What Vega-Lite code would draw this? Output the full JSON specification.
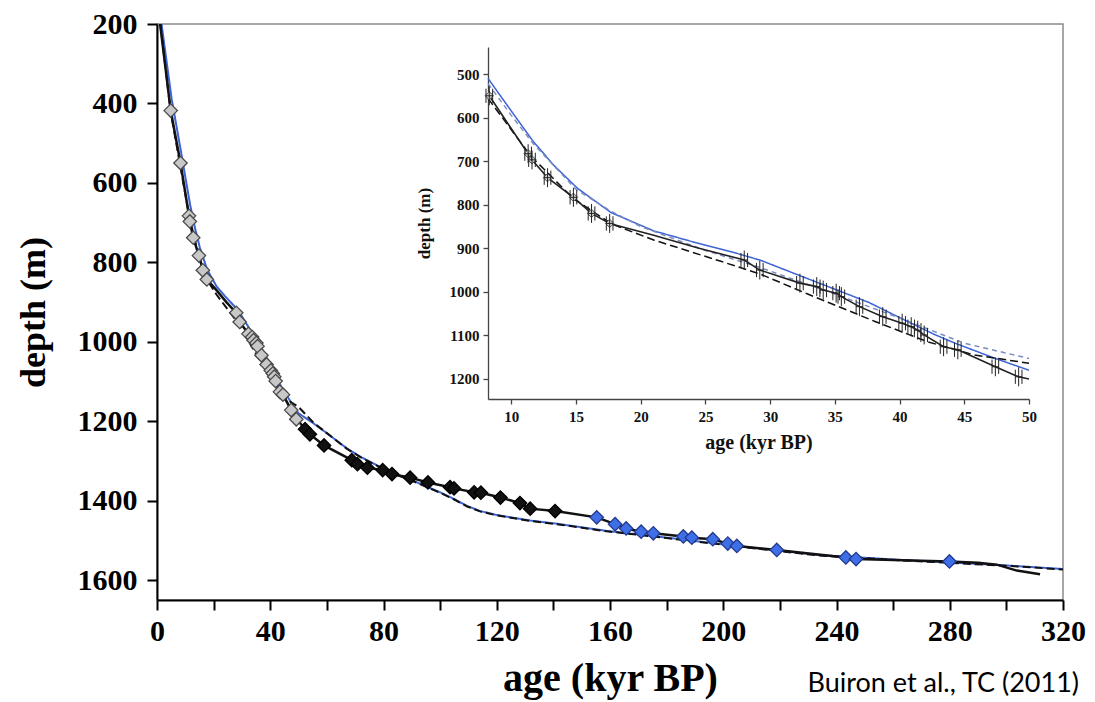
{
  "$schema": "https://vega.github.io/schema/vega-lite/v6.json",
  "width": 906,
  "height": 576,
  "autosize": "none",
  "padding": {"left": 157, "top": 24, "right": 32, "bottom": 102},
  "background": "white",
  "config": {
    "view": {"stroke": "#8a8a8a", "strokeWidth": 1.5},
    "font": "Liberation Serif"
  },
  "title": {
    "text": "Buiron et al., TC (2011)",
    "orient": "bottom",
    "anchor": "end",
    "frame": "group",
    "font": "Lato",
    "fontSize": 27,
    "fontWeight": "normal",
    "color": "#000000",
    "dx": 16,
    "dy": -31
  },
  "datasets": {
    "chron": [
      {"age": 1.1, "depth": 200, "set": "L"},
      {"age": 4.84, "depth": 418, "set": "A"},
      {"age": 8.2, "depth": 546, "set": "L"},
      {"age": 8.3, "depth": 550, "set": "A"},
      {"age": 11.3, "depth": 683, "set": "A"},
      {"age": 11.6, "depth": 697, "set": "A"},
      {"age": 12.8, "depth": 738, "set": "A"},
      {"age": 14.8, "depth": 783, "set": "A"},
      {"age": 16.2, "depth": 820, "set": "A"},
      {"age": 17.6, "depth": 843, "set": "A"},
      {"age": 21.0, "depth": 870, "set": "L"},
      {"age": 24.5, "depth": 900, "set": "L"},
      {"age": 28.0, "depth": 927, "set": "A"},
      {"age": 29.2, "depth": 950, "set": "A"},
      {"age": 32.3, "depth": 980, "set": "A"},
      {"age": 33.6, "depth": 988, "set": "A"},
      {"age": 34.1, "depth": 996, "set": "A"},
      {"age": 35.1, "depth": 1003, "set": "A"},
      {"age": 35.5, "depth": 1011, "set": "A"},
      {"age": 36.9, "depth": 1034, "set": "A"},
      {"age": 38.7, "depth": 1057, "set": "A"},
      {"age": 40.2, "depth": 1072, "set": "A"},
      {"age": 40.9, "depth": 1080, "set": "A"},
      {"age": 41.4, "depth": 1088, "set": "A"},
      {"age": 41.9, "depth": 1099, "set": "A"},
      {"age": 43.4, "depth": 1126, "set": "A"},
      {"age": 44.5, "depth": 1133, "set": "A"},
      {"age": 47.4, "depth": 1172, "set": "A"},
      {"age": 49.2, "depth": 1195, "set": "A"},
      {"age": 50.0, "depth": 1200, "set": "L"},
      {"age": 52.3, "depth": 1220, "set": "B"},
      {"age": 54.0, "depth": 1233, "set": "B"},
      {"age": 59.0, "depth": 1261, "set": "B"},
      {"age": 68.8, "depth": 1298, "set": "B"},
      {"age": 70.8, "depth": 1308, "set": "B"},
      {"age": 74.3, "depth": 1317, "set": "B"},
      {"age": 79.7, "depth": 1323, "set": "B"},
      {"age": 83.0, "depth": 1333, "set": "B"},
      {"age": 89.4, "depth": 1342, "set": "B"},
      {"age": 95.7, "depth": 1354, "set": "B"},
      {"age": 103.5, "depth": 1366, "set": "B"},
      {"age": 104.9, "depth": 1369, "set": "B"},
      {"age": 112.0, "depth": 1379, "set": "B"},
      {"age": 114.4, "depth": 1380, "set": "B"},
      {"age": 121.3, "depth": 1392, "set": "B"},
      {"age": 128.2, "depth": 1406, "set": "B"},
      {"age": 131.8, "depth": 1420, "set": "B"},
      {"age": 140.6, "depth": 1426, "set": "B"},
      {"age": 155.3, "depth": 1442, "set": "C"},
      {"age": 161.8, "depth": 1459, "set": "C"},
      {"age": 165.7, "depth": 1470, "set": "C"},
      {"age": 171.0, "depth": 1478, "set": "C"},
      {"age": 175.3, "depth": 1482, "set": "C"},
      {"age": 185.9, "depth": 1490, "set": "C"},
      {"age": 188.9, "depth": 1493, "set": "C"},
      {"age": 196.3, "depth": 1497, "set": "C"},
      {"age": 201.6, "depth": 1508, "set": "C"},
      {"age": 204.8, "depth": 1514, "set": "C"},
      {"age": 218.9, "depth": 1524, "set": "C"},
      {"age": 243.3, "depth": 1543, "set": "C"},
      {"age": 246.9, "depth": 1547, "set": "C"},
      {"age": 279.9, "depth": 1553, "set": "C"},
      {"age": 290.0, "depth": 1556, "set": "L"},
      {"age": 296.6, "depth": 1561, "set": "L"},
      {"age": 303.7, "depth": 1576, "set": "L"},
      {"age": 311.9, "depth": 1585, "set": "L"}
    ],
    "models": [
      {"age": 1.6, "depth": 200, "curve": "M1"},
      {"age": 5.2, "depth": 390, "curve": "M1"},
      {"age": 8.2, "depth": 510, "curve": "M1"},
      {"age": 10.0, "depth": 585, "curve": "M1"},
      {"age": 11.7, "depth": 655, "curve": "M1"},
      {"age": 13.3, "depth": 710, "curve": "M1"},
      {"age": 15.1, "depth": 762, "curve": "M1"},
      {"age": 17.7, "depth": 818, "curve": "M1"},
      {"age": 21.0, "depth": 860, "curve": "M1"},
      {"age": 24.0, "depth": 885, "curve": "M1"},
      {"age": 27.0, "depth": 908, "curve": "M1"},
      {"age": 29.3, "depth": 928, "curve": "M1"},
      {"age": 32.4, "depth": 964, "curve": "M1"},
      {"age": 35.0, "depth": 994, "curve": "M1"},
      {"age": 37.6, "depth": 1024, "curve": "M1"},
      {"age": 40.2, "depth": 1062, "curve": "M1"},
      {"age": 42.7, "depth": 1098, "curve": "M1"},
      {"age": 44.3, "depth": 1118, "curve": "M1"},
      {"age": 47.4, "depth": 1153, "curve": "M1"},
      {"age": 50.0, "depth": 1180, "curve": "M1"},
      {"age": 55.2, "depth": 1205, "curve": "M1"},
      {"age": 60.0, "depth": 1230, "curve": "M1"},
      {"age": 67.0, "depth": 1268, "curve": "M1"},
      {"age": 72.0, "depth": 1290, "curve": "M1"},
      {"age": 78.8, "depth": 1315, "curve": "M1"},
      {"age": 85.0, "depth": 1335, "curve": "M1"},
      {"age": 90.5, "depth": 1350, "curve": "M1"},
      {"age": 100.0, "depth": 1379, "curve": "M1"},
      {"age": 105.0, "depth": 1396, "curve": "M1"},
      {"age": 109.4, "depth": 1413, "curve": "M1"},
      {"age": 114.1, "depth": 1426, "curve": "M1"},
      {"age": 120.0, "depth": 1436, "curve": "M1"},
      {"age": 131.8, "depth": 1450, "curve": "M1"},
      {"age": 141.2, "depth": 1458, "curve": "M1"},
      {"age": 158.8, "depth": 1476, "curve": "M1"},
      {"age": 180.0, "depth": 1493, "curve": "M1"},
      {"age": 206.0, "depth": 1515, "curve": "M1"},
      {"age": 234.0, "depth": 1537, "curve": "M1"},
      {"age": 262.5, "depth": 1549, "curve": "M1"},
      {"age": 297.8, "depth": 1562, "curve": "M1"},
      {"age": 320.0, "depth": 1572, "curve": "M1"},
      {"age": 1.2, "depth": 200, "curve": "M2"},
      {"age": 4.8, "depth": 420, "curve": "M2"},
      {"age": 8.2, "depth": 556, "curve": "M2"},
      {"age": 11.5, "depth": 688, "curve": "M2"},
      {"age": 14.8, "depth": 786, "curve": "M2"},
      {"age": 17.8, "depth": 845, "curve": "M2"},
      {"age": 21.0, "depth": 881, "curve": "M2"},
      {"age": 26.2, "depth": 930, "curve": "M2"},
      {"age": 29.3, "depth": 960, "curve": "M2"},
      {"age": 32.9, "depth": 1005, "curve": "M2"},
      {"age": 38.1, "depth": 1068, "curve": "M2"},
      {"age": 42.2, "depth": 1115, "curve": "M2"},
      {"age": 45.8, "depth": 1145, "curve": "M2"},
      {"age": 50.0, "depth": 1164, "curve": "M2"},
      {"age": 55.2, "depth": 1203, "curve": "M2"},
      {"age": 60.0, "depth": 1230, "curve": "M2"},
      {"age": 67.0, "depth": 1269, "curve": "M2"},
      {"age": 72.0, "depth": 1291, "curve": "M2"},
      {"age": 78.8, "depth": 1316, "curve": "M2"},
      {"age": 85.0, "depth": 1336, "curve": "M2"},
      {"age": 90.5, "depth": 1351, "curve": "M2"},
      {"age": 100.0, "depth": 1380, "curve": "M2"},
      {"age": 105.0, "depth": 1397, "curve": "M2"},
      {"age": 109.4, "depth": 1414, "curve": "M2"},
      {"age": 114.1, "depth": 1427, "curve": "M2"},
      {"age": 120.0, "depth": 1437, "curve": "M2"},
      {"age": 131.8, "depth": 1451, "curve": "M2"},
      {"age": 141.2, "depth": 1459, "curve": "M2"},
      {"age": 158.8, "depth": 1477, "curve": "M2"},
      {"age": 180.0, "depth": 1494, "curve": "M2"},
      {"age": 206.0, "depth": 1516, "curve": "M2"},
      {"age": 234.0, "depth": 1538, "curve": "M2"},
      {"age": 262.5, "depth": 1550, "curve": "M2"},
      {"age": 297.8, "depth": 1563, "curve": "M2"},
      {"age": 320.0, "depth": 1573, "curve": "M2"},
      {"age": 8.2, "depth": 522, "curve": "M3"},
      {"age": 10.0, "depth": 595, "curve": "M3"},
      {"age": 11.7, "depth": 660, "curve": "M3"},
      {"age": 15.0, "depth": 765, "curve": "M3"},
      {"age": 17.7, "depth": 815, "curve": "M3"},
      {"age": 20.0, "depth": 850, "curve": "M3"},
      {"age": 25.0, "depth": 905, "curve": "M3"},
      {"age": 29.3, "depth": 945, "curve": "M3"},
      {"age": 35.0, "depth": 1005, "curve": "M3"},
      {"age": 40.0, "depth": 1060, "curve": "M3"},
      {"age": 45.0, "depth": 1118, "curve": "M3"},
      {"age": 50.0, "depth": 1153, "curve": "M3"}
    ]
  },
  "resolve": {
    "scale": {"x": "independent", "y": "independent"},
    "axis": {"x": "independent", "y": "independent"}
  },
  "layer": [
    {
      "layer": [
        {
          "data": {"name": "models"},
          "transform": [{"filter": "datum.curve != 'M3'"}],
          "mark": {"type": "line", "clip": true, "strokeWidth": 2},
          "encoding": {
            "x": {
              "field": "age", "type": "quantitative",
              "scale": {"domain": [0, 320], "nice": false, "zero": false},
              "axis": {
                "orient": "bottom",
                "values": [0, 20, 40, 60, 80, 100, 120, 140, 160, 180, 200, 220, 240, 260, 280, 300, 320],
                "labelExpr": "datum.value % 40 === 0 ? datum.label : ''",
                "format": "d",
                "grid": false,
                "domainColor": "#000000", "domainWidth": 2,
                "tickColor": "#000000", "tickWidth": 2, "tickSize": 10,
                "labelFont": "Liberation Serif", "labelFontWeight": "bold", "labelFontSize": 30,
                "labelColor": "#000000", "labelPadding": 6, "labelFlush": false, "labelOverlap": false,
                "title": "age (kyr BP)",
                "titleFont": "Liberation Serif", "titleFontWeight": "bold", "titleFontSize": 40,
                "titleColor": "#000000", "titleBaseline": "alphabetic", "titleY": 90
              }
            },
            "y": {
              "field": "depth", "type": "quantitative",
              "scale": {"domain": [200, 1650], "nice": false, "zero": false, "reverse": true},
              "axis": {
                "orient": "left",
                "values": [200, 400, 600, 800, 1000, 1200, 1400, 1600],
                "format": "d",
                "grid": false,
                "domainColor": "#000000", "domainWidth": 2,
                "tickColor": "#000000", "tickWidth": 2, "tickSize": 10,
                "labelFont": "Liberation Serif", "labelFontWeight": "bold", "labelFontSize": 30,
                "labelColor": "#000000", "labelPadding": 10, "labelOverlap": false, "labelFlush": false,
                "title": "depth (m)",
                "titleFont": "Liberation Serif", "titleFontWeight": "bold", "titleFontSize": 36,
                "titleColor": "#000000", "titleX": -105
              }
            },
            "color": {
              "field": "curve", "type": "nominal",
              "scale": {"domain": ["M1", "M2", "M3"], "range": ["#3d63d4", "#111111", "#7d8cc0"]},
              "legend": null
            },
            "strokeDash": {
              "field": "curve", "type": "nominal",
              "scale": {"domain": ["M1", "M2", "M3"], "range": [[1, 0], [8, 4], [5, 4]]},
              "legend": null
            }
          }
        },
        {
          "data": {"name": "chron"},
          "mark": {"type": "line", "clip": true, "color": "#111111", "strokeWidth": 2.5},
          "encoding": {
            "x": {"field": "age", "type": "quantitative"},
            "y": {"field": "depth", "type": "quantitative"}
          }
        },
        {
          "data": {"name": "chron"},
          "transform": [{"filter": "datum.set != 'L'"}],
          "mark": {"type": "point", "shape": "diamond", "filled": true, "size": 180, "strokeWidth": 1.3, "opacity": 1},
          "encoding": {
            "x": {"field": "age", "type": "quantitative"},
            "y": {"field": "depth", "type": "quantitative"},
            "fill": {
              "field": "set", "type": "nominal",
              "scale": {"domain": ["A", "B", "C"], "range": ["#c8c8c8", "#111111", "#3f6fe6"]},
              "legend": null
            },
            "stroke": {
              "field": "set", "type": "nominal",
              "scale": {"domain": ["A", "B", "C"], "range": ["#4a4a4a", "#000000", "#23398f"]},
              "legend": null
            }
          }
        }
      ]
    },
    {
      "layer": [
        {
          "mark": {"type": "rect", "fill": "white", "stroke": "#8a8a8a", "strokeWidth": 1.3},
          "encoding": {
            "x": {
              "datum": 8.2, "type": "quantitative",
              "scale": {"domain": [8.2, 50], "range": [331, 872], "nice": false, "zero": false},
              "axis": {
                "orient": "bottom", "offset": -201,
                "values": [10, 15, 20, 25, 30, 35, 40, 45, 50],
                "grid": false,
                "domainColor": "#444444", "domainWidth": 1.3,
                "tickColor": "#444444", "tickWidth": 1.3, "tickSize": 5,
                "labelFont": "Liberation Serif", "labelFontWeight": "bold", "labelFontSize": 15,
                "labelColor": "#111111", "labelPadding": 5, "labelFlush": false, "labelOverlap": false,
                "title": "age (kyr BP)",
                "titleFont": "Liberation Serif", "titleFontWeight": "bold", "titleFontSize": 20,
                "titleColor": "#111111", "titlePadding": 8
              }
            },
            "x2": {"datum": 50},
            "y": {
              "datum": 438, "type": "quantitative",
              "scale": {"domain": [438, 1246], "range": [23, 375], "nice": false, "zero": false},
              "axis": {
                "orient": "left", "offset": -331,
                "values": [500, 600, 700, 800, 900, 1000, 1100, 1200],
                "format": "d",
                "grid": false,
                "domainColor": "#444444", "domainWidth": 1.3,
                "tickColor": "#444444", "tickWidth": 1.3, "tickSize": 5,
                "labelFont": "Liberation Serif", "labelFontWeight": "bold", "labelFontSize": 15,
                "labelColor": "#111111", "labelPadding": 4, "labelFlush": false, "labelOverlap": false,
                "title": "depth (m)",
                "titleFont": "Liberation Serif", "titleFontWeight": "bold", "titleFontSize": 17,
                "titleColor": "#111111", "titlePadding": 16
              }
            },
            "y2": {"datum": 1246}
          }
        },
        {
          "data": {"name": "models"},
          "transform": [{"filter": "datum.age >= 8.2 && datum.age <= 50"}],
          "mark": {"type": "line", "strokeWidth": 1.5},
          "encoding": {
            "x": {"field": "age", "type": "quantitative"},
            "y": {"field": "depth", "type": "quantitative"},
            "color": {"field": "curve", "type": "nominal", "legend": null},
            "strokeDash": {"field": "curve", "type": "nominal", "legend": null}
          }
        },
        {
          "data": {"name": "chron"},
          "transform": [{"filter": "datum.age >= 8.2 && datum.age <= 50"}],
          "mark": {"type": "line", "color": "#222222", "strokeWidth": 1.6},
          "encoding": {
            "x": {"field": "age", "type": "quantitative"},
            "y": {"field": "depth", "type": "quantitative"}
          }
        },
        {
          "data": {"name": "chron"},
          "transform": [{"filter": "datum.set == 'A' && datum.age >= 8 && datum.age <= 20"}],
          "mark": {"type": "point", "shape": "diamond", "filled": true, "size": 70, "fill": "#cfcfcf", "stroke": "#555555", "strokeWidth": 1, "opacity": 1},
          "encoding": {
            "x": {"field": "age", "type": "quantitative"},
            "y": {"field": "depth", "type": "quantitative"}
          }
        },
        {
          "data": {"name": "chron"},
          "transform": [{"filter": "datum.set == 'A' && datum.age >= 8 && datum.age <= 50"}],
          "mark": {"type": "point", "shape": "M-0.35,-0.75V0.75M0.35,-0.75V0.75M-0.35,0H0.35M0,-1V1", "filled": false, "size": 360, "stroke": "#222222", "strokeWidth": 1, "opacity": 1},
          "encoding": {
            "x": {"field": "age", "type": "quantitative"},
            "y": {"field": "depth", "type": "quantitative"}
          }
        }
      ]
    }
  ]
}
